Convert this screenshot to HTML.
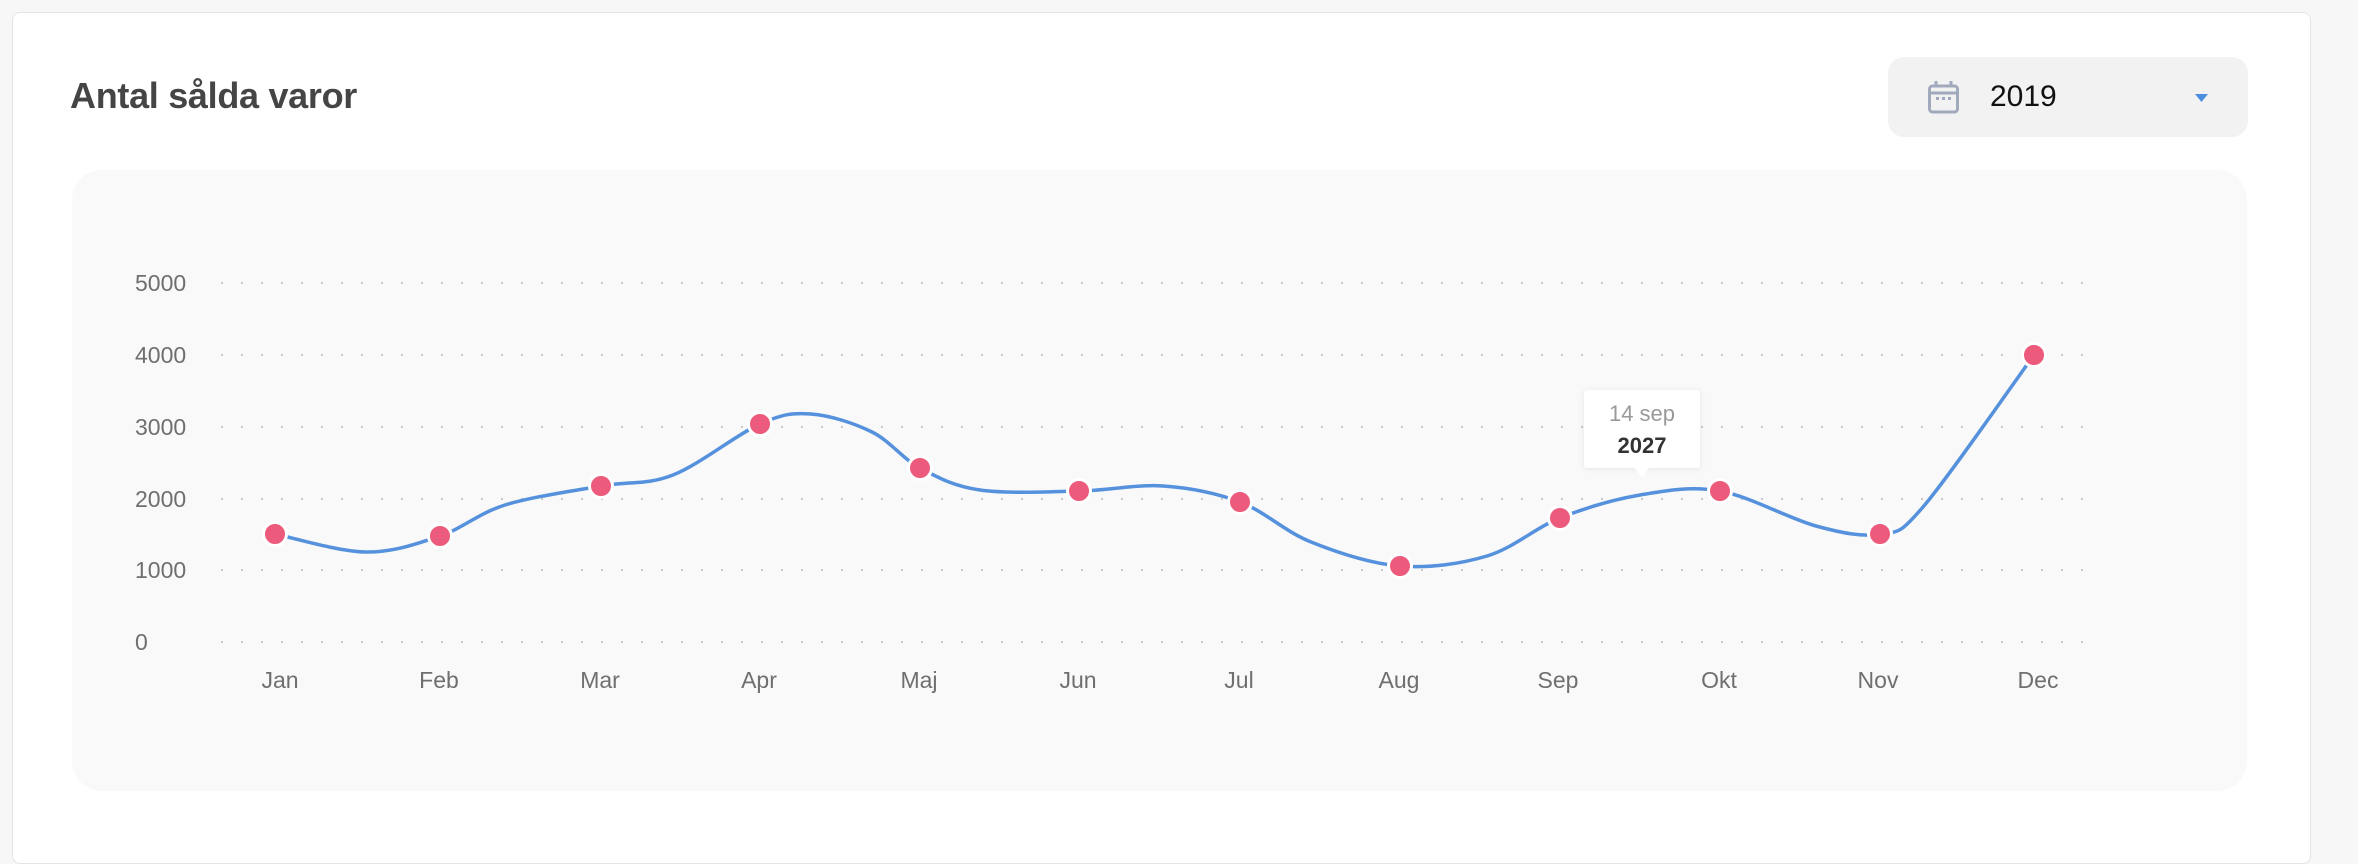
<!DOCTYPE html>
<html><head><meta charset="utf-8"><style>
html,body{margin:0;padding:0;width:2358px;height:846px;background:#f7f7f7;overflow:hidden;font-family:"Liberation Sans",sans-serif;}
.card{position:absolute;left:12px;top:12px;width:2297px;height:850px;background:#fff;border:1.5px solid #e4e4e4;border-radius:8px;}
.title{position:absolute;left:70px;top:75px;font-size:36px;font-weight:bold;color:#454545;letter-spacing:-0.3px;}
.dd{position:absolute;left:1888px;top:57px;width:360px;height:80px;background:#f2f2f2;border-radius:16px;}
.yr{position:absolute;left:1990px;top:80px;font-size:30px;color:#111;}
.panel{position:absolute;left:72px;top:170px;width:2175px;height:621px;background:#f9f9f9;border-radius:30px;}
svg{position:absolute;left:0;top:0;}
</style></head><body>
<div class="card"></div>
<div class="title">Antal sålda varor</div>
<div class="dd"></div>
<div class="yr">2019</div>
<div class="panel"></div>
<svg width="2358" height="846" font-family="Liberation Sans, sans-serif">
<g fill="none" stroke="#a1a9bd" stroke-width="3">
<rect x="1929.5" y="86" width="28" height="26" rx="3"/>
<line x1="1930" y1="93" x2="1957" y2="93"/>
<line x1="1936" y1="81" x2="1936" y2="87"/><line x1="1951" y1="81" x2="1951" y2="87"/>
</g>
<g fill="#a1a9bd"><rect x="1936" y="97" width="3" height="3"/><rect x="1942" y="97" width="3" height="3"/><rect x="1948" y="97" width="3" height="3"/></g>
<polygon points="2195,94 2208,94 2201.5,102" fill="#4a8ee0"/>
<g stroke="#c8c8c8" stroke-width="2" stroke-dasharray="2 18">
<line x1="221" y1="283" x2="2090" y2="283"/><line x1="221" y1="355" x2="2090" y2="355"/>
<line x1="221" y1="427" x2="2090" y2="427"/><line x1="221" y1="499" x2="2090" y2="499"/>
<line x1="221" y1="570" x2="2090" y2="570"/><line x1="221" y1="642" x2="2090" y2="642"/>
</g>
<g fill="#6f6f6f" font-size="23">
<text x="135" y="291">5000</text><text x="135" y="363">4000</text><text x="135" y="435">3000</text>
<text x="135" y="507">2000</text><text x="135" y="578">1000</text><text x="135" y="650">0</text>
</g>
<g fill="#6f6f6f" font-size="23" text-anchor="middle">
<text x="280" y="688">Jan</text><text x="439" y="688">Feb</text><text x="600" y="688">Mar</text>
<text x="759" y="688">Apr</text><text x="919" y="688">Maj</text><text x="1078" y="688">Jun</text>
<text x="1239" y="688">Jul</text><text x="1399" y="688">Aug</text><text x="1558" y="688">Sep</text>
<text x="1719" y="688">Okt</text><text x="1878" y="688">Nov</text><text x="2038" y="688">Dec</text>
</g>
<path id="ln" fill="none" stroke="#5591dc" stroke-width="3.5" d=""/>
<g id="mk" fill="#ec5b7b" stroke="#fff" stroke-width="3"></g>
<g>
<rect x="1584" y="390" width="116" height="78" rx="3" fill="#fff" style="filter:drop-shadow(0 1px 3px rgba(0,0,0,0.08))"/>
<polygon points="1634,467 1650,467 1642,477" fill="#fff"/>
<text x="1642" y="421" text-anchor="middle" font-size="22" fill="#999">14 sep</text>
<text x="1642" y="453" text-anchor="middle" font-size="22" font-weight="bold" fill="#333">2027</text>
</g>
</svg>
<script>
var P=[[275,534],[366,552],[440,536],[505,505],[601,486],[673,475],[760,424],[811,414],[872,432],[920,468],[980,490],[1079,491],[1163,486],[1240,502],[1311,542],[1400,566],[1487,556],[1560,518],[1640,495],[1720,491],[1816,526],[1880,534],[1923,507],[2034,355]];
var d="M"+P[0][0]+","+P[0][1];
for(var i=0;i<P.length-1;i++){
 var p0=P[Math.max(0,i-1)],p1=P[i],p2=P[i+1],p3=P[Math.min(P.length-1,i+2)];
 var c1=[p1[0]+(p2[0]-p0[0])/6,p1[1]+(p2[1]-p0[1])/6];
 var c2=[p2[0]-(p3[0]-p1[0])/6,p2[1]-(p3[1]-p1[1])/6];
 d+=" C"+c1.join(",")+" "+c2.join(",")+" "+p2.join(",");
}
document.getElementById("ln").setAttribute("d",d);
var M=[[275,534],[440,536],[601,486],[760,424],[920,468],[1079,491],[1240,502],[1400,566],[1560,518],[1720,491],[1880,534],[2034,355]];
var g=document.getElementById("mk"),s="";
M.forEach(function(m){s+='<circle cx="'+m[0]+'" cy="'+m[1]+'" r="11.5"/>';});
g.innerHTML=s;
</script>
</body></html>
